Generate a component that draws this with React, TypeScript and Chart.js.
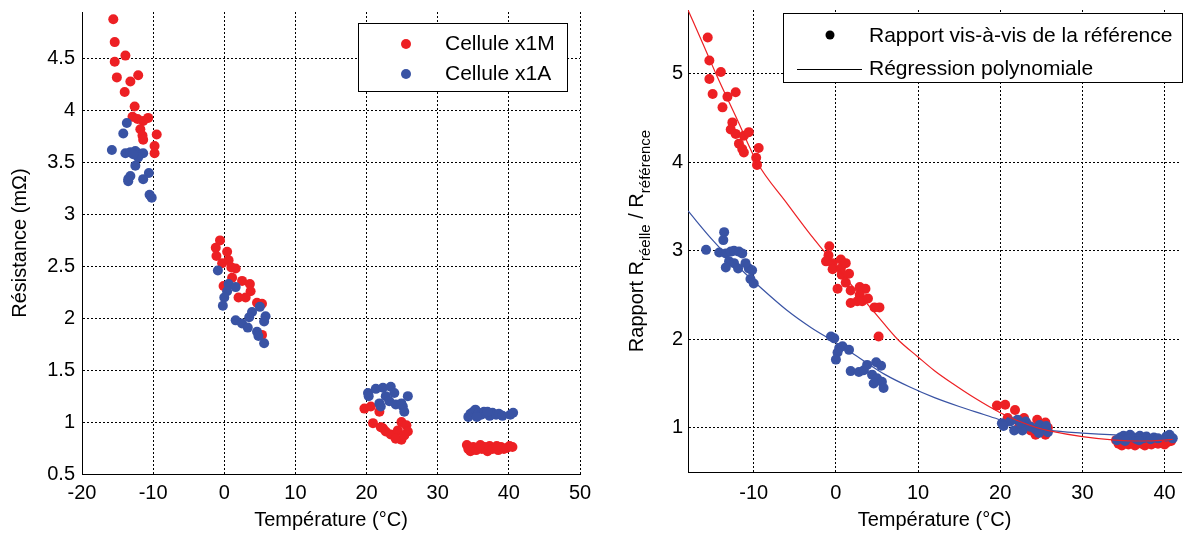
import React, { useEffect, useRef } from "react";
import { Chart, registerables } from "chart.js";
Chart.register(...registerables);

const FONT = "'Liberation Sans', Arial, Helvetica, sans-serif";
const RED = "rgb(237,32,36)";
const BLUE = "rgb(57,83,164)";

// ---------- Left panel: Résistance vs Température ----------
const leftXTicks = [-20, -10, 0, 10, 20, 30, 40, 50];
const leftYTicks = [0.5, 1, 1.5, 2, 2.5, 3, 3.5, 4, 4.5];

const leftRedX = [
  -15.6, -15.4, -13.9, -15.4, -15.1, -13.2, -12.1, -14.0, -12.6, -12.9, -12.2, -11.4, -10.7, -11.8, -11.5, -11.4, -9.5, -9.8, -9.8,
  -0.6, -1.2, 0.4, -1.1, -0.3, 0.6, 1.6, 1.0, 1.1, 2.5, -0.1, 3.6, 3.7, 2.0, 3.0, 4.6, 5.3, 5.3,
  19.7, 20.6, 21.8, 20.9, 22.3, 22.7, 23.4, 24.9, 25.6, 24.4, 25.8, 24.9, 24.1, 25.3, 22.0,
  34.1, 34.3, 34.6, 35.0, 35.4, 35.8, 36.2, 36.6, 37.0, 37.3, 37.7, 38.1, 38.5, 38.9, 39.3, 39.7, 40.1, 40.5, 36.0, 38.3,
];
const leftRedY = [
  4.88, 4.66, 4.53, 4.47, 4.32, 4.28, 4.34, 4.18, 4.04, 3.94, 3.92, 3.90, 3.93, 3.82, 3.76, 3.72, 3.77, 3.66, 3.59,
  2.75, 2.68, 2.64, 2.60, 2.53, 2.56, 2.48, 2.49, 2.39, 2.36, 2.31, 2.33, 2.26, 2.20, 2.20, 2.15, 2.14, 1.84,
  1.13, 1.15, 1.10, 0.99, 0.94, 0.91, 0.88, 1.00, 0.97, 0.92, 0.91, 0.83, 0.84, 0.87, 0.95,
  0.78, 0.74, 0.72, 0.76, 0.73, 0.75, 0.74, 0.76, 0.72, 0.77, 0.74, 0.75, 0.73, 0.76, 0.74, 0.75, 0.77, 0.76, 0.78, 0.77,
];
const leftBlueX = [
  -13.7, -14.2, -15.8, -13.9, -13.2, -12.5, -12.1, -11.4, -12.5, -12.1, -13.2, -10.6, -13.5, -11.4, -10.5, -10.2, -12.8, -13.5,
  -0.9, 0.6, 1.6, 0.4, 0.0, -0.2, 5.0, 3.9, 5.8, 3.5, 1.6, 2.5, 5.6, 3.3, 4.6, 4.8, 5.6,
  20.2, 21.3, 22.3, 23.4, 23.9, 22.7, 21.8, 23.2, 24.1, 25.1, 25.8, 25.3, 24.9, 20.3, 22.0,
  34.3, 34.6, 35.0, 35.3, 35.7, 36.1, 36.5, 36.9, 37.3, 37.7, 38.2, 38.6, 39.1, 40.2, 40.6, 35.5, 37.0,
];
const leftBlueY = [
  3.88, 3.78, 3.62, 3.59, 3.60, 3.61, 3.59, 3.59, 3.47, 3.55, 3.37, 3.40, 3.34, 3.34, 3.19, 3.16, 3.58, 3.32,
  2.46, 2.33, 2.30, 2.26, 2.20, 2.12, 2.11, 2.06, 2.02, 2.01, 1.98, 1.95, 1.97, 1.91, 1.87, 1.83, 1.76,
  1.28, 1.32, 1.33, 1.34, 1.28, 1.25, 1.18, 1.20, 1.17, 1.15, 1.25, 1.10, 1.18, 1.25, 1.15,
  1.05, 1.08, 1.10, 1.12, 1.09, 1.07, 1.10, 1.08, 1.06, 1.09, 1.07, 1.08, 1.06, 1.07, 1.09, 1.05, 1.10,
];

// ---------- Right panel: Rapport vs Température ----------
const rightXTicks = [-10, 0, 10, 20, 30, 40];
const rightYTicks = [1, 2, 3, 4, 5];

const rightRedX = [
  -15.6, -15.4, -14.0, -15.4, -15.0, -13.2, -12.2, -13.8, -12.6, -12.8, -12.2, -11.2, -10.6, -11.8, -11.4, -11.2, -9.4, -9.7, -9.6,
  -0.8, -0.9, -1.2, -0.4, 0.6, -0.4, 0.6, 1.6, 0.7, 1.2, 0.2, 1.8, 2.9, 3.6, 3.9, 2.9, 1.8, 2.6, 3.2, 4.7, 5.3, 5.2, 1.2,
  19.6, 20.6, 21.8, 20.9, 22.9, 24.5, 25.5, 24.3, 25.5, 22.3, 23.7, 25.1, 24.9, 23.3, 25.8,
  34.1, 34.4, 34.8, 35.2, 35.6, 36.0, 36.4, 36.8, 37.2, 37.6, 38.0, 38.4, 38.8, 39.2, 39.6, 40.0, 40.4, 40.8, 35.4, 37.4,
];
const rightRedY = [
  5.41, 5.15, 5.02, 4.94, 4.77, 4.74, 4.79, 4.62, 4.45, 4.37, 4.32, 4.30, 4.34, 4.21, 4.15, 4.11, 4.16, 4.05, 3.97,
  3.05, 2.95, 2.88, 2.86, 2.90, 2.79, 2.80, 2.74, 2.73, 2.64, 2.57, 2.55, 2.59, 2.57, 2.46, 2.50, 2.41, 2.43, 2.43, 2.36, 2.36, 2.03, 2.86,
  1.25, 1.26, 1.20, 1.11, 1.11, 1.09, 1.06, 0.92, 0.92, 1.01, 0.97, 0.97, 1.02, 1.04, 1.00,
  0.86, 0.82, 0.80, 0.84, 0.81, 0.83, 0.80, 0.84, 0.82, 0.80, 0.83, 0.81, 0.84, 0.82, 0.83, 0.81, 0.84, 0.85, 0.86, 0.85,
];
const rightBlueX = [
  -15.8, -13.6, -13.7, -14.2, -13.4, -12.8, -12.4, -11.8, -11.4, -13.0, -12.4, -11.9, -10.6, -10.2, -10.4, -10.0, -13.4, -11.0,
  -0.6, -0.2, 0.4, 0.8, 1.6, 0.2, 0.0, 1.8, 2.8, 3.4, 3.8, 4.4, 4.9, 5.5, 5.0, 5.6, 4.6, 5.8,
  20.2, 21.2, 22.1, 23.1, 21.7, 22.7, 23.7, 24.3, 25.3, 24.7, 25.8, 20.4, 22.5, 24.8, 25.6,
  34.2, 34.6, 35.0, 35.4, 35.8, 36.2, 36.6, 37.0, 37.4, 37.8, 38.3, 38.7, 39.2, 40.2, 40.6, 41.0, 35.2, 36.9,
];
const rightBlueY = [
  3.01, 3.21, 3.12, 2.98, 2.97, 2.99, 3.00, 2.99, 2.97, 2.88, 2.86, 2.80, 2.80, 2.78, 2.68, 2.63, 2.81, 2.86,
  2.03, 2.01, 1.90, 1.92, 1.88, 1.85, 1.77, 1.64, 1.63, 1.65, 1.71, 1.60, 1.74, 1.70, 1.56, 1.52, 1.50, 1.45,
  1.05, 1.07, 1.09, 1.07, 0.97, 0.97, 1.01, 0.98, 0.99, 0.94, 0.95, 1.02, 1.05, 1.03, 1.02,
  0.86, 0.89, 0.91, 0.88, 0.92, 0.89, 0.87, 0.91, 0.88, 0.90, 0.87, 0.89, 0.88, 0.90, 0.92, 0.88, 0.85, 0.86,
];

// Regression curves
const fitRedX = [-18, -16, -14.6, -12, -9.6, -6, -3, -1.5, 2, 5, 7.5, 10, 12, 14.2, 17, 20, 22, 24.5, 26, 30, 34, 37, 40, 41];
const fitRedY = [5.72, 5.30, 5.0, 4.48, 4.0, 3.54, 3.17, 3.0, 2.6, 2.27, 2.0, 1.80, 1.645, 1.50, 1.33, 1.17, 1.085, 1.0, 0.965, 0.90, 0.86, 0.85, 0.86, 0.87];
const fitBlueX = [-18, -15, -12, -9, -6, -3, 0, 3, 6, 9, 12, 15, 18, 20, 23, 26, 30, 34, 38, 41];
const fitBlueY = [3.45, 3.12, 2.83, 2.57, 2.33, 2.13, 1.96, 1.78, 1.6, 1.46, 1.34, 1.24, 1.15, 1.09, 1.02, 0.97, 0.94, 0.92, 0.91, 0.90];

const pts = (xs: number[], ys: number[]) => xs.map((x, i) => ({ x, y: ys[i] }));

function axis(opts: {
  pos: "bottom" | "left";
  min: number;
  max: number;
  ticks: number[];
  size: number;
  tickPad: number;
  title?: string;
  titlePad?: any;
}) {
  return {
    type: "linear",
    position: opts.pos,
    min: opts.min,
    max: opts.max,
    afterBuildTicks: (s: any) => {
      s.ticks = opts.ticks.map((v) => ({ value: v }));
    },
    afterFit: (s: any) => {
      if (opts.pos === "bottom") s.height = opts.size;
      else s.width = opts.size;
      s.paddingTop = 0;
      s.paddingBottom = 0;
      s.paddingLeft = 0;
      s.paddingRight = 0;
    },
    grid: { color: "#000", lineWidth: 1, drawTicks: false },
    border: { color: "#000", width: 1, dash: [2, 2] },
    ticks: {
      color: "#000",
      font: { family: FONT, size: 20 },
      padding: opts.tickPad,
      maxRotation: 0,
      autoSkip: false,
      callback: (v: any) => String(v),
    },
    title: {
      display: !!opts.title,
      text: opts.title || "",
      color: "#000",
      font: { family: FONT, size: 20 },
      padding: opts.titlePad || 0,
    },
  };
}

function scatterDs(label: string, data: any[], color: string, order: number) {
  return {
    label,
    data,
    backgroundColor: color,
    borderColor: color,
    pointRadius: 5,
    pointBorderWidth: 0,
    pointHoverRadius: 5,
    showLine: false,
    order,
  };
}

function lineDs(label: string, data: any[], color: string) {
  return {
    label,
    data,
    borderColor: color,
    backgroundColor: color,
    borderWidth: 1.2,
    pointRadius: 0,
    showLine: true,
    cubicInterpolationMode: "monotone",
    order: 0,
  };
}

const leftLegend = {
  id: "leftLegend",
  afterDraw(chart: any) {
    const ctx = chart.ctx;
    ctx.save();
    ctx.fillStyle = "#fff";
    ctx.fillRect(358, 23, 209, 69);
    ctx.strokeStyle = "#000";
    ctx.lineWidth = 1;
    ctx.strokeRect(358.5, 23.5, 209, 68);
    const rows = [
      { c: RED, t: "Cellule x1M", y: 44 },
      { c: BLUE, t: "Cellule x1A", y: 74 },
    ];
    ctx.font = `21px ${FONT}`;
    ctx.textBaseline = "middle";
    ctx.textAlign = "left";
    for (const r of rows) {
      ctx.fillStyle = r.c;
      ctx.beginPath();
      ctx.arc(406, r.y, 5, 0, Math.PI * 2);
      ctx.fill();
      ctx.fillStyle = "#000";
      ctx.fillText(r.t, 445, r.y);
    }
    ctx.restore();
  },
};

const rightDecor = {
  id: "rightDecor",
  afterDraw(chart: any) {
    const ctx = chart.ctx;
    ctx.save();
    // legend (canvas x = page x - 600)
    ctx.fillStyle = "#fff";
    ctx.fillRect(183, 13, 400, 70);
    ctx.strokeStyle = "#000";
    ctx.lineWidth = 1;
    ctx.strokeRect(183.5, 13.5, 399, 69);
    ctx.fillStyle = "#000";
    ctx.beginPath();
    ctx.arc(230, 35, 4.5, 0, Math.PI * 2);
    ctx.fill();
    ctx.beginPath();
    ctx.moveTo(197, 69.5);
    ctx.lineTo(262, 69.5);
    ctx.stroke();
    ctx.font = `21px ${FONT}`;
    ctx.textBaseline = "middle";
    ctx.textAlign = "left";
    ctx.fillText("Rapport vis-à-vis de la référence", 269, 36);
    ctx.fillText("Régression polynomiale", 269, 69);

    // y title with subscripts
    const parts = [
      { t: "Rapport R", sub: false },
      { t: "réelle", sub: true },
      { t: " / R", sub: false },
      { t: "référence", sub: true },
    ];
    const mainF = `20px ${FONT}`;
    const subF = `15px ${FONT}`;
    let total = 0;
    const widths = parts.map((p) => {
      ctx.font = p.sub ? subF : mainF;
      const w = ctx.measureText(p.t).width;
      total += w;
      return w;
    });
    const ca = chart.chartArea;
    const cy = (ca.top + ca.bottom) / 2;
    ctx.translate(43, cy);
    ctx.rotate(-Math.PI / 2);
    ctx.textBaseline = "alphabetic";
    ctx.textAlign = "left";
    let x = -total / 2;
    parts.forEach((p, i) => {
      ctx.font = p.sub ? subF : mainF;
      ctx.fillText(p.t, x, p.sub ? 7 : 0);
      x += widths[i];
    });
    ctx.restore();
  },
};

export default function App() {
  const leftRef = useRef<HTMLCanvasElement>(null);
  const rightRef = useRef<HTMLCanvasElement>(null);

  useEffect(() => {
    const left = new Chart(leftRef.current as HTMLCanvasElement, {
      type: "scatter",
      data: {
        datasets: [
          scatterDs("Cellule x1M", pts(leftRedX, leftRedY), RED, 2),
          scatterDs("Cellule x1A", pts(leftBlueX, leftBlueY), BLUE, 1),
        ],
      },
      options: {
        responsive: false,
        animation: false,
        events: [],
        layout: { padding: { left: 0, right: 20, top: 12, bottom: 0 } },
        plugins: { legend: { display: false }, tooltip: { enabled: false } },
        scales: {
          x: axis({ pos: "bottom", min: -20, max: 50, ticks: leftXTicks, size: 59, tickPad: 7, title: "Température (°C)", titlePad: { top: 0, bottom: 1 } }),
          y: axis({ pos: "left", min: 0.5, max: 4.95, ticks: leftYTicks, size: 82, tickPad: 7, title: "Résistance (mΩ)", titlePad: { top: 8, bottom: 0 } }),
        },
      } as any,
      plugins: [leftLegend],
    } as any);

    const right = new Chart(rightRef.current as HTMLCanvasElement, {
      type: "scatter",
      data: {
        datasets: [
          scatterDs("Rouge", pts(rightRedX, rightRedY), RED, 3),
          scatterDs("Bleu", pts(rightBlueX, rightBlueY), BLUE, 2),
          lineDs("Régression rouge", pts(fitRedX, fitRedY), RED),
          lineDs("Régression bleue", pts(fitBlueX, fitBlueY), BLUE),
        ],
      },
      options: {
        responsive: false,
        animation: false,
        events: [],
        layout: { padding: { left: 0, right: 1, top: 10, bottom: 0 } },
        plugins: { legend: { display: false }, tooltip: { enabled: false } },
        scales: {
          x: axis({ pos: "bottom", min: -18, max: 42, ticks: rightXTicks, size: 61, tickPad: 9, title: "Température (°C)", titlePad: { top: 0, bottom: 1 } }),
          y: axis({ pos: "left", min: 0.5, max: 5.72, ticks: rightYTicks, size: 88, tickPad: 5 }),
        },
      } as any,
      plugins: [rightDecor],
    } as any);

    return () => {
      left.destroy();
      right.destroy();
    };
  }, []);

  return (
    <div style={{ position: "absolute", left: 0, top: 0, width: 1186, height: 533, background: "#fff", overflow: "hidden" }}>
      <canvas ref={leftRef} width={600} height={533} style={{ position: "absolute", left: 0, top: 0, width: 600, height: 533 }} />
      <canvas ref={rightRef} width={586} height={533} style={{ position: "absolute", left: 600, top: 0, width: 586, height: 533 }} />
    </div>
  );
}
